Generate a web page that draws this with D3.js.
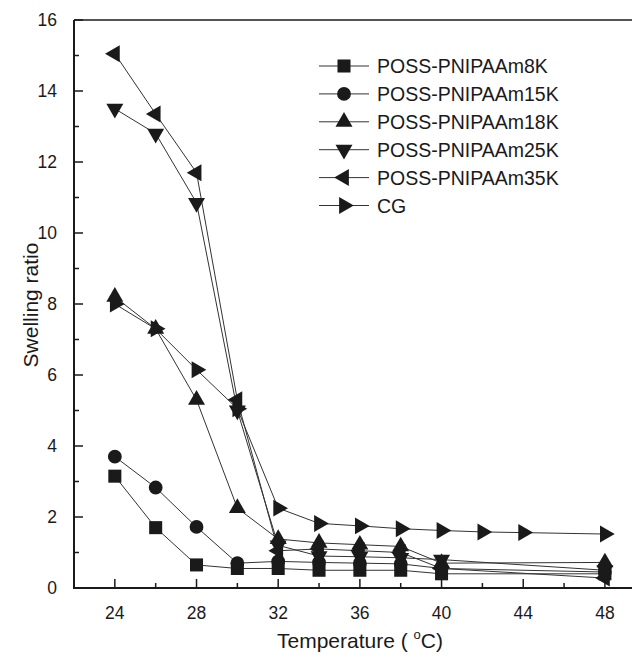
<!DOCTYPE html>
<html>
<head>
<meta charset="utf-8">
<script src="https://cdn.jsdelivr.net/npm/d3@7/dist/d3.min.js"></script>
<style>
  html, body { margin: 0; padding: 0; background: #fff; }
  svg { display: block; font-family: "Liberation Sans", Arial, sans-serif; }
</style>
</head>
<body>
<svg id="chart" width="632" height="659"></svg>
<script>
// Swelling ratio of POSS-PNIPAAm hydrogels and CG versus temperature
const temps = [24, 26, 28, 30, 32, 34, 36, 38, 40, 48];
const tempsCG = [24, 26, 28, 30, 32, 34, 36, 38, 40, 42, 44, 48];

const p8K  = [3.15, 1.70, 0.65, 0.55, 0.55, 0.50, 0.50, 0.50, 0.40, 0.40];
const p15K = [3.70, 2.83, 1.72, 0.70, 0.75, 0.72, 0.70, 0.68, 0.55, 0.45];
const p18K = [8.20, 7.30, 5.30, 2.25, 1.38, 1.27, 1.22, 1.17, 0.70, 0.72];
const p25K = [13.50, 12.80, 10.85, 5.00, 1.20, 0.90, 0.88, 0.85, 0.80, 0.50];
const p35K = [15.05, 13.35, 11.70, 5.30, 1.05, 1.10, 1.05, 1.00, 0.55, 0.28];
const cg   = [8.00, 7.30, 6.15, 5.05, 2.25, 1.82, 1.75, 1.67, 1.62, 1.58, 1.56, 1.52];

const seriesNames = ["POSS-PNIPAAm8K", "POSS-PNIPAAm15K", "POSS-PNIPAAm18K",
                     "POSS-PNIPAAm25K", "POSS-PNIPAAm35K", "CG"];
const xTicks = [24, 28, 32, 36, 40, 44, 48];
const yTicks = [0, 2, 4, 6, 8, 10, 12, 14, 16];

const series = [
  { name: seriesNames[0], x: temps,   y: p8K,  shape: "square" },
  { name: seriesNames[1], x: temps,   y: p15K, shape: "circle" },
  { name: seriesNames[2], x: temps,   y: p18K, shape: "up" },
  { name: seriesNames[3], x: temps,   y: p25K, shape: "down" },
  { name: seriesNames[4], x: temps,   y: p35K, shape: "left" },
  { name: seriesNames[5], x: tempsCG, y: cg,   shape: "right" }
];

const svg = d3.select("#chart");
const x = d3.scaleLinear().domain([22, 50]).range([74, 645.75]);
const y = d3.scaleLinear().domain([0, 16]).range([588, 20]);

const ink = "#1a1a1a";

// marker generators
const sym = {
  square: d3.symbol().type(d3.symbolSquare).size(170),
  circle: d3.symbol().type(d3.symbolCircle).size(150),
  tri: d3.symbol().type(d3.symbolTriangle).size(125)
};
const rot = { up: 0, down: 180, left: -90, right: 90 };
function drawMarker(g, shape, cx, cy) {
  let path, r = 0;
  if (shape === "square") path = sym.square();
  else if (shape === "circle") path = sym.circle();
  else { path = sym.tri(); r = rot[shape]; }
  g.append("path")
    .attr("d", path)
    .attr("transform", `translate(${cx},${cy}) rotate(${r})`)
    .attr("fill", ink);
}

// data lines and markers
const line = d3.line().x(d => x(d[0])).y(d => y(d[1]));
const plot = svg.append("g");
series.forEach(s => {
  const pts = s.x.map((t, i) => [t, s.y[i]]);
  plot.append("path")
    .attr("d", line(pts))
    .attr("fill", "none")
    .attr("stroke", "#333")
    .attr("stroke-width", 1);
});
series.forEach(s => {
  s.x.forEach((t, i) => drawMarker(plot, s.shape, x(t), y(s.y[i])));
});

// frame
svg.append("line").attr("x1", 74).attr("x2", 632).attr("y1", 20).attr("y2", 20)
  .attr("stroke", ink).attr("stroke-width", 1.6);

// axes with inward ticks
const xMinor = d3.range(24, 50, 2).filter(v => !xTicks.includes(v));
const yMinor = d3.range(1, 16, 2);

const gx = svg.append("g").attr("transform", "translate(0,588)");
gx.append("line").attr("x1", 74).attr("x2", 632).attr("stroke", ink).attr("stroke-width", 2);
gx.selectAll(".maj").data(xTicks).join("line")
  .attr("x1", d => x(d)).attr("x2", d => x(d)).attr("y1", 0).attr("y2", -9)
  .attr("stroke", ink).attr("stroke-width", 1.5);
gx.selectAll(".min").data(xMinor).join("line")
  .attr("x1", d => x(d)).attr("x2", d => x(d)).attr("y1", 0).attr("y2", -5)
  .attr("stroke", ink).attr("stroke-width", 1.5);
gx.selectAll("text").data(xTicks).join("text")
  .attr("x", d => x(d)).attr("y", 31)
  .attr("text-anchor", "middle").attr("font-size", 17.5).attr("fill", ink)
  .text(d => d);

const gy = svg.append("g").attr("transform", "translate(74,0)");
gy.append("line").attr("y1", 20).attr("y2", 589).attr("stroke", ink).attr("stroke-width", 2);
gy.selectAll(".maj").data(yTicks).join("line")
  .attr("y1", d => y(d)).attr("y2", d => y(d)).attr("x1", 0).attr("x2", 9)
  .attr("stroke", ink).attr("stroke-width", 1.5);
gy.selectAll(".min").data(yMinor).join("line")
  .attr("y1", d => y(d)).attr("y2", d => y(d)).attr("x1", 0).attr("x2", 5)
  .attr("stroke", ink).attr("stroke-width", 1.5);
gy.selectAll("text").data(yTicks).join("text")
  .attr("x", -17).attr("y", d => y(d) + 6)
  .attr("text-anchor", "end").attr("font-size", 17.5).attr("fill", ink)
  .text(d => d);

// axis titles
svg.append("text")
  .attr("transform", "translate(38,305) rotate(-90)")
  .attr("text-anchor", "middle").attr("font-size", 21).attr("fill", ink)
  .text("Swelling ratio");

const xt = svg.append("text")
  .attr("x", 360).attr("y", 648)
  .attr("text-anchor", "middle").attr("font-size", 21).attr("fill", ink);
xt.append("tspan").text("Temperature ( ");
xt.append("tspan").attr("font-size", 13).attr("dy", -9).text("o");
xt.append("tspan").attr("dy", 9).text("C)");

// legend
const leg = svg.append("g");
series.forEach((s, i) => {
  const ly = 66 + i * 27.9;
  leg.append("line").attr("x1", 319).attr("x2", 369).attr("y1", ly).attr("y2", ly)
    .attr("stroke", "#333").attr("stroke-width", 1);
  drawMarker(leg, s.shape, 344, ly);
  leg.append("text").attr("x", 377).attr("y", ly + 7)
    .attr("font-size", 19.5).attr("fill", ink).text(s.name);
});
</script>
</body>
</html>
